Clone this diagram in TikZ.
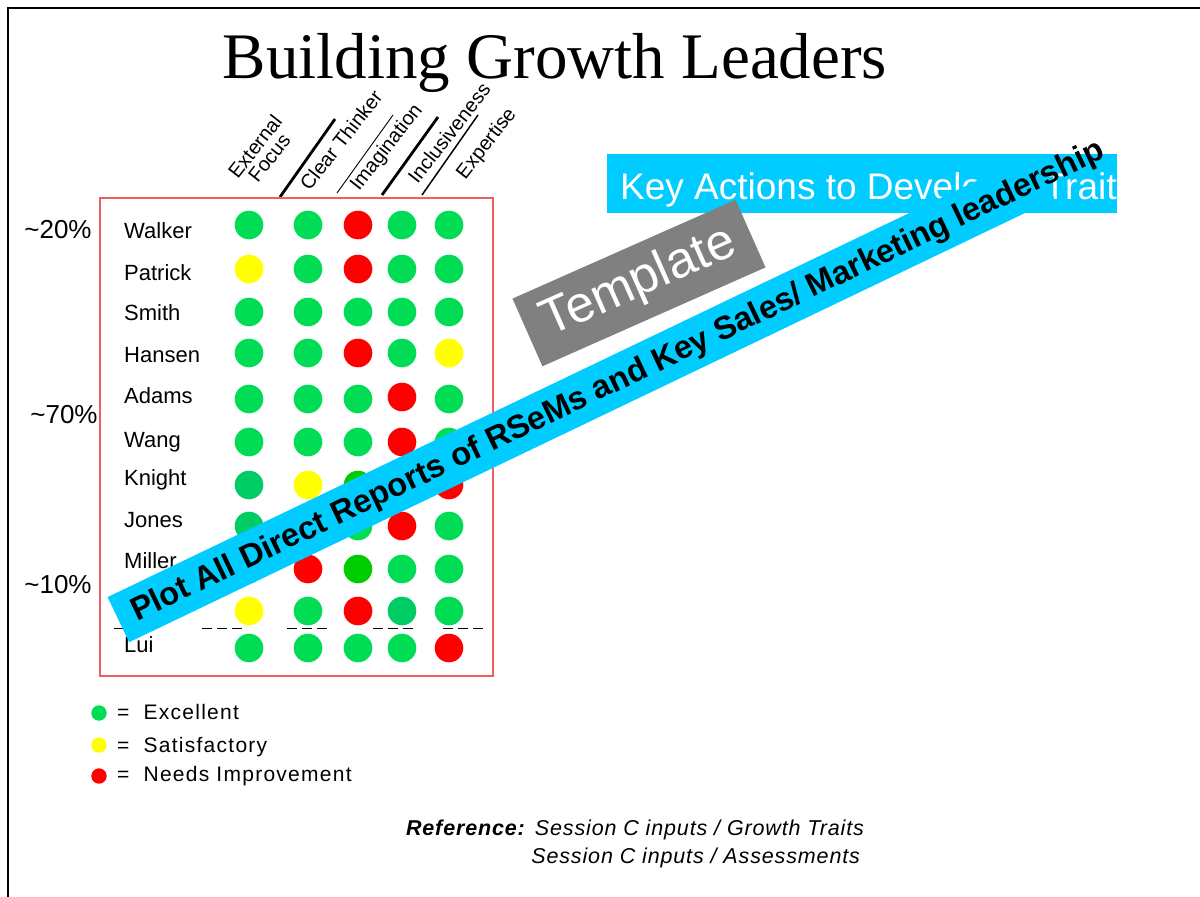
\documentclass[tikz,border=0pt]{standalone}
\usepackage{fontspec}
\setmainfont{Liberation Sans}
\newfontfamily\titlefont{Liberation Serif}
\newfontfamily\keyfont[LetterSpace=6]{Liberation Sans}
\newfontfamily\reffont[LetterSpace=4]{Liberation Sans}

\definecolor{okgreen}{RGB}{0,221,85}
\definecolor{tealgreen}{RGB}{0,204,102}
\definecolor{deepgreen}{RGB}{0,204,0}
\definecolor{badred}{RGB}{255,0,0}
\definecolor{fairyellow}{RGB}{255,255,0}
\definecolor{barcyan}{RGB}{0,204,255}
\definecolor{boxred}{RGB}{240,96,96}
\definecolor{tplgray}{RGB}{128,128,128}

\tikzset{
	dot/.style={circle,inner sep=0pt,minimum size=28.6pt},
	gd/.style={dot,fill=okgreen},
	tg/.style={dot,fill=tealgreen},
	dg/.style={dot,fill=deepgreen},
	rd/.style={dot,fill=badred},
	yl/.style={dot,fill=fairyellow},
	keydot/.style={circle,inner sep=0pt,minimum size=15.4pt},
	who/.style={anchor=base west,inner sep=0pt,font=\fontsize{22}{26}\selectfont},
	pct/.style={inner sep=0pt,font=\fontsize{26}{30}\selectfont},
	trait/.style={rotate=52,align=center,inner sep=0pt,font=\fontsize{20}{18}\selectfont},
	keytxt/.style={anchor=base west,inner sep=0pt,font=\keyfont\fontsize{21}{25}\selectfont},
	reftxt/.style={anchor=base east,inner sep=0pt,font=\reffont\fontsize{21.5}{25}\selectfont},
	bar/.style={fill=barcyan,inner sep=0pt},
}

\begin{document}
\begin{tikzpicture}[x=1pt,y=-1pt]
	\useasboundingbox[fill=white] (0,0) rectangle (1200,897);
	\draw[line width=2pt] (8,897) -- (8,8) -- (1200,8);
	\node[inner sep=0pt,anchor=base,font=\titlefont\fontsize{65}{70}\selectfont] (title) at (555,78) {Building Growth Leaders};

	% traits
	\node[trait] (t1) at (262,152) {External\\Focus};
	\node[trait] (t2) at (341,140) {Clear Thinker};
	\node[trait] (t3) at (387,148) {Imagination};
	\node[trait] (t4) at (449,133) {Inclusiveness};
	\node[trait] (t5) at (487,144) {Expertise};
	\draw[line width=2.8pt] (280,197) -- (335,119);
	\draw[line width=0.9pt] (337,193) -- (393,115);
	\draw[line width=2.8pt] (382,195) -- (438,117);
	\draw[line width=1.5pt] (422,195) -- (478,115);

	\draw[boxred,line width=1.2pt] (100,198) rectangle (493,676);

	% names
	\node[who] (walker) at (124,238) {Walker};
	\node[who] (patrick) at (124,280) {Patrick};
	\node[who] (smith) at (124,320) {Smith};
	\node[who] (hansen) at (124,362) {Hansen};
	\node[who] (adams) at (124,403) {Adams};
	\node[who] (wang) at (124,447) {Wang};
	\node[who] (knight) at (124,485) {Knight};
	\node[who] (jones) at (124,527) {Jones};
	\node[who] (miller) at (124,568) {Miller};
	\node[who] (lui) at (124,652) {Lui};

	\node[pct] (p20) at (58,230) {\textasciitilde 20\%};
	\node[pct] (p70) at (64,415) {\textasciitilde 70\%};
	\node[pct] (p10) at (58,585) {\textasciitilde 10\%};

	% ratings
	\node[gd] (wa1) at (249,225) {}; \node[gd] (wa2) at (308,225) {}; \node[rd] (wa3) at (358,225) {}; \node[gd] (wa4) at (402,225) {}; \node[gd] (wa5) at (449,225) {};
	\node[yl] (pa1) at (249,269) {}; \node[gd] (pa2) at (308,269) {}; \node[rd] (pa3) at (358,269) {}; \node[gd] (pa4) at (402,269) {}; \node[gd] (pa5) at (449,269) {};
	\node[gd] (sm1) at (249,312) {}; \node[gd] (sm2) at (308,312) {}; \node[gd] (sm3) at (358,312) {}; \node[gd] (sm4) at (402,312) {}; \node[gd] (sm5) at (449,312) {};
	\node[gd] (ha1) at (249,353) {}; \node[gd] (ha2) at (308,353) {}; \node[rd] (ha3) at (358,353) {}; \node[gd] (ha4) at (402,353) {}; \node[yl] (ha5) at (449,353) {};
	\node[gd] (ad1) at (249,399) {}; \node[gd] (ad2) at (308,399) {}; \node[gd] (ad3) at (358,399) {}; \node[rd] (ad4) at (402,397) {}; \node[gd] (ad5) at (449,399) {};
	\node[gd] (wn1) at (249,442) {}; \node[gd] (wn2) at (308,442) {}; \node[gd] (wn3) at (358,442) {}; \node[rd] (wn4) at (402,442) {}; \node[gd] (wn5) at (449,442) {};
	\node[tg] (kn1) at (249,485) {}; \node[yl] (kn2) at (308,485) {}; \node[dg] (kn3) at (358,485) {}; \node[gd] (kn4) at (402,485) {}; \node[rd] (kn5) at (449,485) {};
	\node[tg] (jo1) at (249,526) {}; \node[gd] (jo2) at (308,526) {}; \node[gd] (jo3) at (358,526) {}; \node[rd] (jo4) at (402,526) {}; \node[gd] (jo5) at (449,526) {};
	\node[gd] (mi1) at (249,569) {}; \node[rd] (mi2) at (308,569) {}; \node[dg] (mi3) at (358,569) {}; \node[gd] (mi4) at (402,569) {}; \node[gd] (mi5) at (449,569) {};
	\node[yl] (xx1) at (249,611) {}; \node[gd] (xx2) at (308,611) {}; \node[rd] (xx3) at (358,611) {}; \node[tg] (xx4) at (402,611) {}; \node[gd] (xx5) at (449,611) {};
	\node[gd] (lu1) at (249,648) {}; \node[gd] (lu2) at (308,648) {}; \node[gd] (lu3) at (358,648) {}; \node[gd] (lu4) at (402,648) {}; \node[rd] (lu5) at (449,648) {};

	% cut line
	\draw[dash pattern=on 10pt off 5pt,line width=0.8pt] (114,628) -- (136,628);
	\draw[dash pattern=on 10pt off 5pt,line width=0.8pt] (202,628) -- (243,628);
	\draw[dash pattern=on 10pt off 5pt,line width=0.8pt] (287,628) -- (330,628);
	\draw[dash pattern=on 10pt off 5pt,line width=0.8pt] (373,628) -- (417,628);
	\draw[dash pattern=on 10pt off 5pt,line width=0.8pt] (443,628) -- (487,628);

	% key
	\node[keydot,fill=okgreen] (k1) at (99,713) {};
	\node[keytxt] (k1t) at (117,719) {=\ \ Excellent};
	\node[keydot,fill=fairyellow] (k2) at (99,745) {};
	\node[keytxt] (k2t) at (117,752) {=\ \ Satisfactory};
	\node[keydot,fill=badred] (k3) at (99,776) {};
	\node[keytxt] (k3t) at (117,781) {=\ \ Needs Improvement};

	\node[reftxt] (ref1) at (865,835) {\textbf{\textit{Reference:}} \textit{Session C inputs / Growth Traits}};
	\node[reftxt] (ref2) at (861,863) {\textit{Session C inputs / Assessments}};

	% overlays
	\node[bar,minimum width=510pt,minimum height=59pt] (keyact) at (862,183.5) {};
	\begin{scope}
		\clip (keyact.south west) rectangle (keyact.north east);
		\node[anchor=base west,inner sep=0pt,text=white,font=\fontsize{37}{40}\selectfont] (keyacttxt) at (620,199) {Key Actions to Develop\hspace{31pt} Traits};
	\end{scope}
	\node[fill=tplgray,rotate=23.9,minimum width=244pt,minimum height=74pt,inner sep=0pt,text=white,font=\fontsize{51}{55}\selectfont] (tpl) at (639,283) {Template};
	\node[bar,rotate=25.6,minimum width=1026pt,minimum height=50pt] (plotbar) at (581,398) {};
	\node[rotate=25.6,inner sep=0pt,font=\bfseries\fontsize{32.5}{36}\selectfont] (plottxt) at (618,382) {Plot All Direct Reports of RSeMs and Key Sales/ Marketing leadership};
\end{tikzpicture}
\end{document}
